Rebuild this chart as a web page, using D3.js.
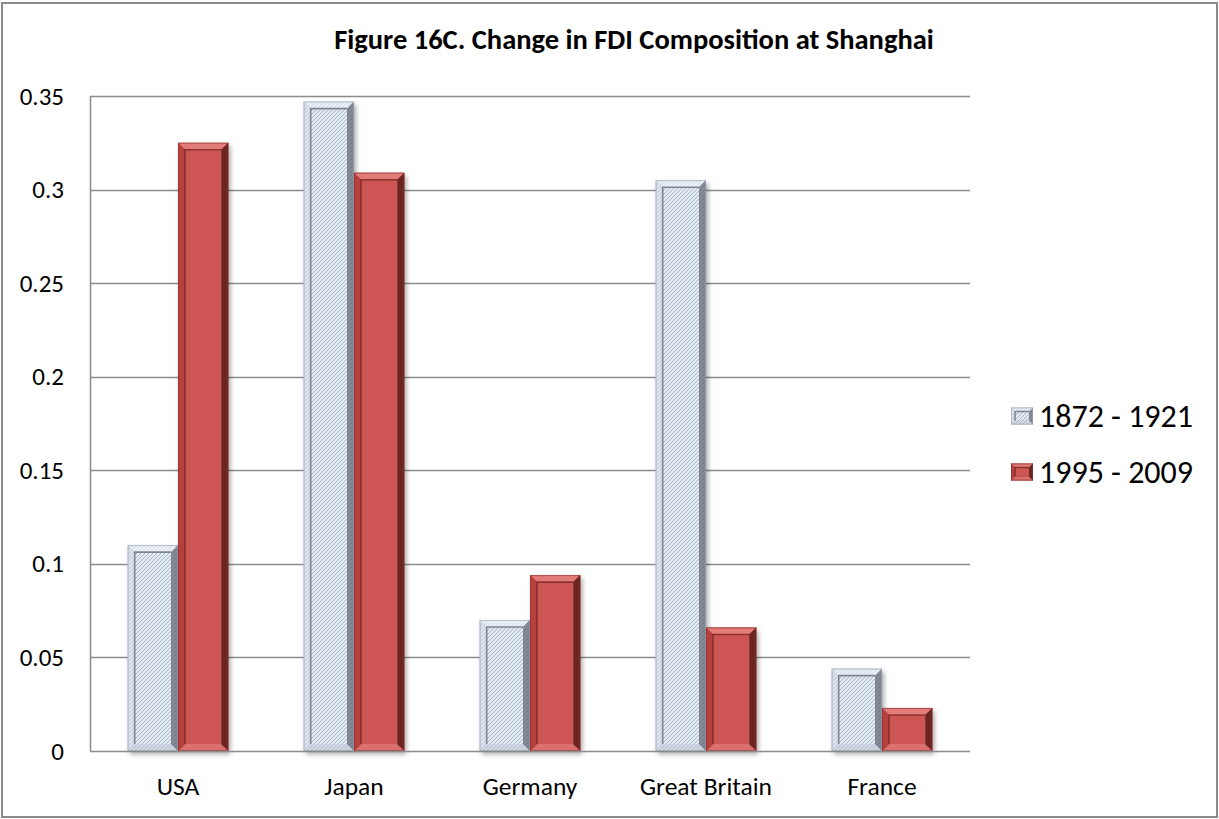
<!DOCTYPE html>
<html>
<head>
<meta charset="utf-8">
<script src="https://cdn.jsdelivr.net/npm/d3@7"></script>
<style>
  html, body { margin: 0; padding: 0; background: #ffffff; }
  svg { display: block; font-family: "Carlito", "Lato", "Open Sans", sans-serif; }
</style>
</head>
<body>
<svg id="chart" width="1219" height="819"></svg>
<script>
// FDI share by source country, two periods
const countries = ["USA", "Japan", "Germany", "Great Britain", "France"];
const seriesNames = ["1872 - 1921", "1995 - 2009"];
const early = [0.110, 0.347, 0.070, 0.305, 0.044];
const recent = [0.325, 0.309, 0.094, 0.066, 0.023];
const yTicks = [0, 0.05, 0.1, 0.15, 0.2, 0.25, 0.3, 0.35];
const yTickLabels = ["0", "0.05", "0.1", "0.15", "0.2", "0.25", "0.3", "0.35"];
const title = "Figure 16C. Change in FDI Composition at Shanghai";

const svg = d3.select("#chart");
const W = 1219, H = 819;
const plot = { left: 90, right: 970, top: 96, bottom: 751 };

// outer chart frame
svg.append("rect")
  .attr("x", 2).attr("y", 3).attr("width", W - 4).attr("height", H - 5)
  .attr("fill", "#ffffff").attr("stroke", "#8a8a8a").attr("stroke-width", 2);

const defs = svg.append("defs");

// fine woven texture used for the light series
const pat = defs.append("pattern")
  .attr("id", "weave").attr("patternUnits", "userSpaceOnUse")
  .attr("width", 4).attr("height", 4);
pat.append("rect").attr("width", 4).attr("height", 4).attr("fill", "#e8eef6");
pat.append("path").attr("d", "M0,4 L4,0 M-1,1 L1,-1 M3,5 L5,3")
  .attr("stroke", "#aab7c8").attr("stroke-width", 1.0);
pat.append("path").attr("d", "M0,0 L4,4 M-1,3 L1,5 M3,-1 L5,1")
  .attr("stroke", "#cdd6e2").attr("stroke-width", 0.6);

const shadow = defs.append("filter").attr("id", "barShadow")
  .attr("x", "-20%").attr("y", "-10%").attr("width", "150%").attr("height", "130%");
shadow.append("feDropShadow").attr("dx", 2).attr("dy", 3).attr("stdDeviation", 2.5)
  .attr("flood-color", "#000").attr("flood-opacity", 0.35);

const x0 = d3.scaleBand().domain(countries).range([plot.left, plot.right]).paddingInner(0).paddingOuter(0);
// two bars per group, gap width 150%
const groupPad = 1.5 / 3.5;
const x1 = d3.scaleBand().domain(seriesNames)
  .range([x0.bandwidth() * groupPad / 2, x0.bandwidth() * (1 - groupPad / 2)]).padding(0);
const y = d3.scaleLinear().domain([0, 0.35]).range([plot.bottom, plot.top]);

// horizontal gridlines
svg.append("g").selectAll("line").data(yTicks.slice(1)).join("line")
  .attr("x1", plot.left).attr("x2", plot.right)
  .attr("y1", d => Math.round(y(d)) + 0.5).attr("y2", d => Math.round(y(d)) + 0.5)
  .attr("stroke", "#8c8c8c").attr("stroke-width", 1.3);

// y axis labels
svg.append("g").selectAll("text").data(yTicks).join("text")
  .attr("x", 64).attr("y", d => y(d))
  .attr("text-anchor", "end").attr("dominant-baseline", "central")
  .attr("font-size", 25).attr("fill", "#000")
  .text((d, i) => yTickLabels[i]);

// bevelled bars
const styles = {
  "1872 - 1921": {
    face: "url(#weave)", top: "#f1f4f9", left: "#d6dde7", right: "#4a5059", bottom: "#c3cbd6",
    rim: "#9aa4b0", innerDark: "#68717d", texture: true
  },
  "1995 - 2009": {
    face: "#cd5654", top: "#e27c79", left: "#b5403d", right: "#6a2422", bottom: "#d9706d",
    rim: "#8e2f2d", innerDark: "#7c2826", texture: false
  }
};

const rows = countries.map((c, i) => ({ country: c, values: [
  { s: seriesNames[0], v: early[i] }, { s: seriesNames[1], v: recent[i] }
]}));

function bevel(g, L, T, R, B, b, st, shadowed) {
  const base = g.append("rect").attr("x", L).attr("y", T).attr("width", R - L).attr("height", B - T)
    .attr("fill", st.rim);
  if (shadowed) base.attr("filter", "url(#barShadow)");
  const poly = (pts, fill) => g.append("polygon")
    .attr("points", pts.map(p => p.join(",")).join(" ")).attr("fill", fill);
  poly([[L, T], [R, T], [R - b, T + b], [L + b, T + b]], st.top);
  poly([[L, B], [R, B], [R - b, B - b], [L + b, B - b]], st.bottom);
  poly([[L, T], [L + b, T + b], [L + b, B - b], [L, B]], st.left);
  poly([[R, T], [R - b, T + b], [R - b, B - b], [R, B]], st.right);
  if (st.texture) {
    g.append("rect").attr("x", L).attr("y", T).attr("width", R - L).attr("height", B - T)
      .attr("fill", "url(#weave)").attr("opacity", 0.4);
  }
  g.append("rect").attr("x", L + b).attr("y", T + b)
    .attr("width", Math.max(0, R - L - 2 * b)).attr("height", Math.max(0, B - T - 2 * b))
    .attr("fill", st.face);
  // recessed inner edge: darker along the inner top and left
  if (b > 2) {
    g.append("path")
      .attr("d", `M${L + b},${B - b} L${L + b},${T + b} L${R - b},${T + b}`)
      .attr("fill", "none").attr("stroke", st.innerDark).attr("stroke-width", 1.6).attr("stroke-opacity", 0.8);
  }
  // thin outer edge
  g.append("rect").attr("x", L + 0.5).attr("y", T + 0.5).attr("width", R - L - 1).attr("height", B - T - 1)
    .attr("fill", "none").attr("stroke", st.rim).attr("stroke-width", 1).attr("stroke-opacity", 0.6);
}

const groups = svg.append("g").selectAll("g").data(rows).join("g")
  .attr("transform", d => `translate(${x0(d.country)},0)`);

groups.each(function (row) {
  const g = d3.select(this);
  row.values.forEach(({ s, v }) => {
    const L = x1(s), R = x1(s) + x1.bandwidth();
    const T = y(v), B = y(0);
    bevel(g.append("g"), L, T, R, B, Math.min(7, (B - T) / 2), styles[s], true);
  });
});

// left axis and baseline
svg.append("line").attr("x1", plot.left + 0.5).attr("x2", plot.left + 0.5)
  .attr("y1", plot.top).attr("y2", plot.bottom)
  .attr("stroke", "#8c8c8c").attr("stroke-width", 1.5);
svg.append("line").attr("x1", plot.left).attr("x2", plot.right)
  .attr("y1", plot.bottom + 0.5).attr("y2", plot.bottom + 0.5)
  .attr("stroke", "#8c8c8c").attr("stroke-width", 1.5);

// category labels
svg.append("g").selectAll("text").data(countries).join("text")
  .attr("x", d => x0(d) + x0.bandwidth() / 2).attr("y", 786)
  .attr("text-anchor", "middle").attr("dominant-baseline", "central")
  .attr("font-size", 25.5).attr("fill", "#000")
  .text(d => d);

// title
svg.append("text").attr("x", 634).attr("y", 49)
  .attr("text-anchor", "middle").attr("font-size", 28.5).attr("font-weight", "bold")
  .attr("fill", "#000").text(title);

// legend
const legend = svg.append("g").selectAll("g").data(seriesNames).join("g")
  .attr("transform", (d, i) => `translate(1011,${416 + i * 56})`);
legend.each(function (s) {
  const g = d3.select(this);
  const w = 22, h = 17;
  bevel(g, 0, -h / 2, w, h / 2, 4, styles[s], false);
  g.append("text").attr("x", 28).attr("y", 0).attr("dominant-baseline", "central")
    .attr("font-size", 32).attr("fill", "#000").text(s);
});
</script>
</body>
</html>
